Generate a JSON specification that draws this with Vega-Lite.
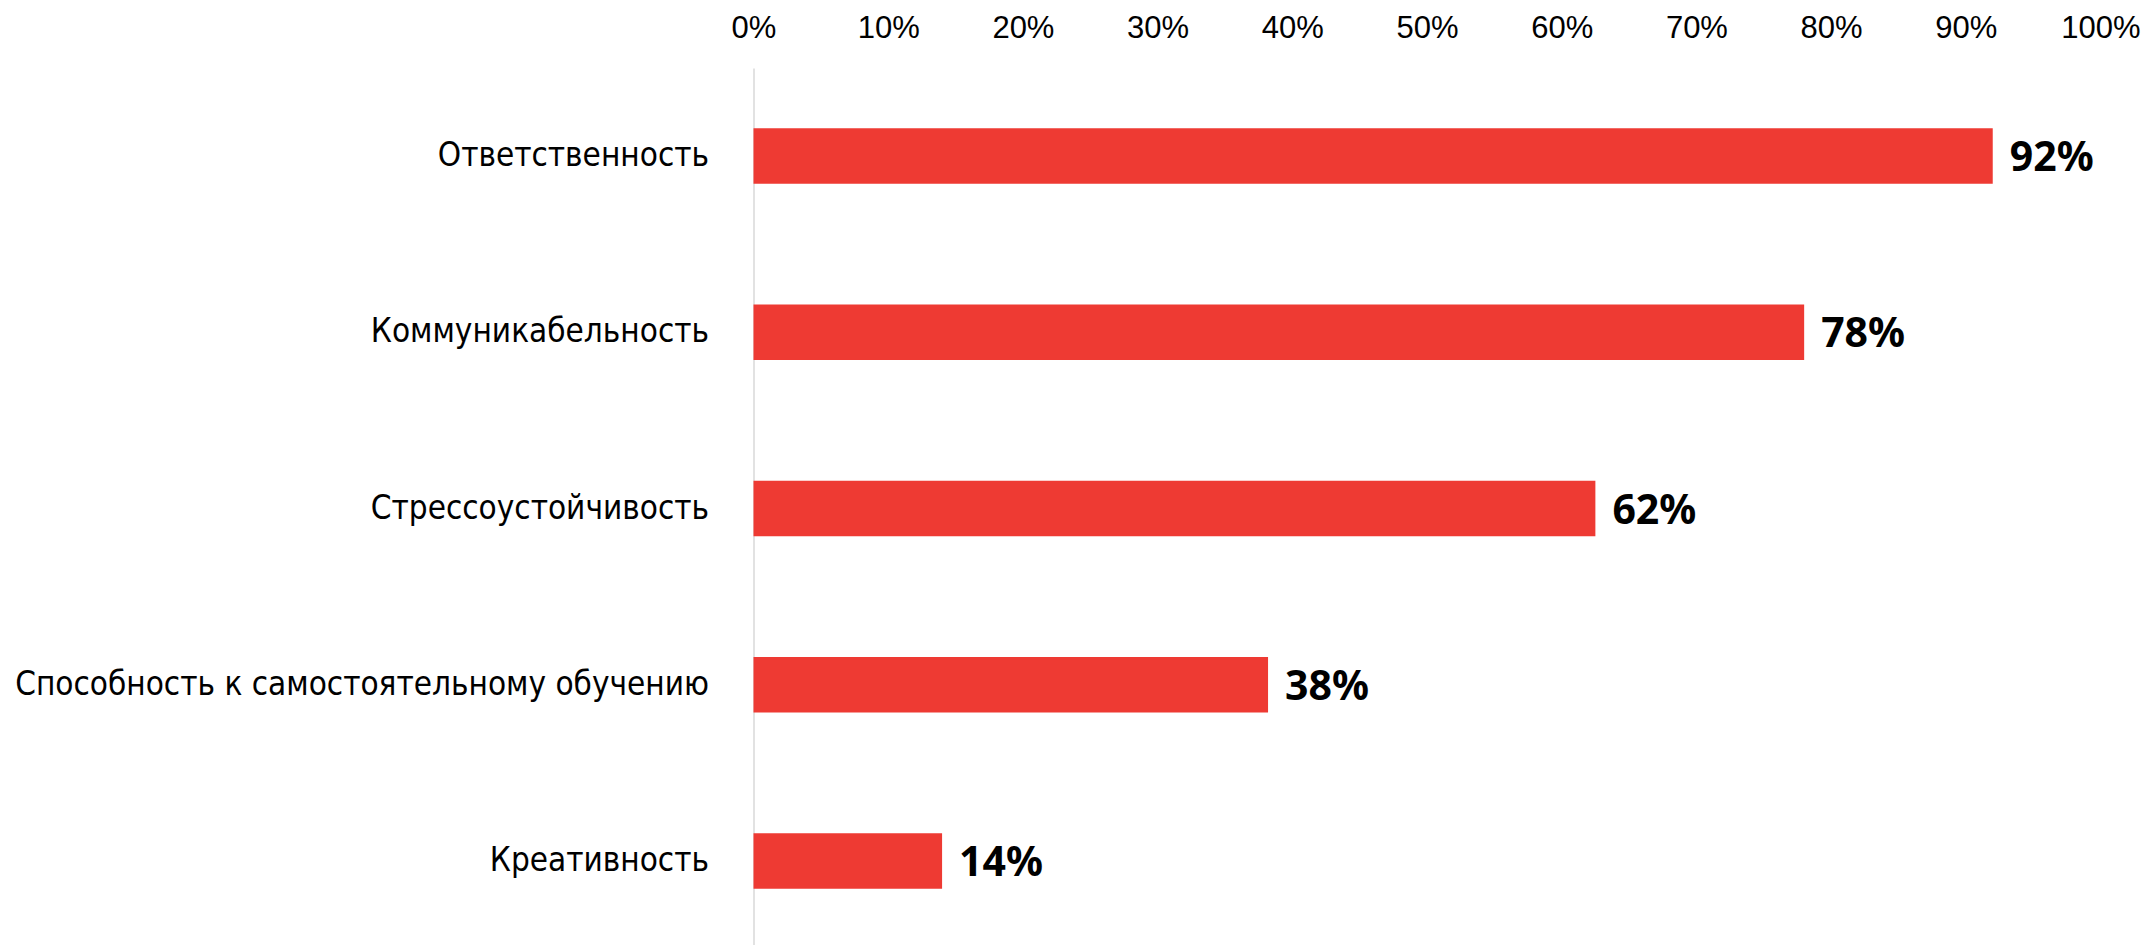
{
  "$schema": "https://vega.github.io/schema/vega-lite/v6.json",
  "width": 1347,
  "height": 881,
  "autosize": {"type": "none"},
  "padding": {"left": 753.5, "top": 68, "right": 48.5, "bottom": 0},
  "background": "white",
  "config": {"view": {"stroke": null}},
  "data": {
    "values": [
      {"skill": "Ответственность", "value": 0.92, "label": "92%"},
      {"skill": "Коммуникабельность", "value": 0.78, "label": "78%"},
      {"skill": "Стрессоустойчивость", "value": 0.625, "label": "62%"},
      {"skill": "Способность к самостоятельному обучению", "value": 0.382, "label": "38%"},
      {"skill": "Креативность", "value": 0.14, "label": "14%"}
    ]
  },
  "encoding": {
    "y": {
      "field": "skill",
      "type": "nominal",
      "sort": null,
      "scale": {"paddingInner": 0.685, "paddingOuter": 0.3425},
      "axis": {
        "title": null,
        "ticks": false,
        "domainColor": "#d9d9d9",
        "domainWidth": 1.5,
        "labelFont": "DejaVu Sans Condensed",
        "labelFontSize": 33,
        "labelColor": "#000000",
        "labelPadding": 45,
        "labelLimit": 900
      }
    },
    "x": {
      "field": "value",
      "type": "quantitative",
      "scale": {"domain": [0, 1], "nice": false},
      "axis": {
        "orient": "top",
        "title": null,
        "format": ".0%",
        "values": [0, 0.1, 0.2, 0.3, 0.4, 0.5, 0.6, 0.7, 0.8, 0.9, 1],
        "grid": false,
        "domain": false,
        "ticks": false,
        "tickSize": 0,
        "labelFont": "Liberation Sans",
        "labelFontSize": 31,
        "labelColor": "#000000",
        "labelPadding": 24,
        "labelFlush": false,
        "labelOverlap": false
      }
    }
  },
  "layer": [
    {"mark": {"type": "bar", "color": "#ee3a33"}},
    {
      "mark": {"type": "text", "align": "left", "baseline": "middle", "dx": 17, "dy": 3, "font": "Noto Sans", "fontWeight": "bold", "fontSize": 41, "color": "#000000"},
      "encoding": {"text": {"field": "label"}}
    }
  ]
}
